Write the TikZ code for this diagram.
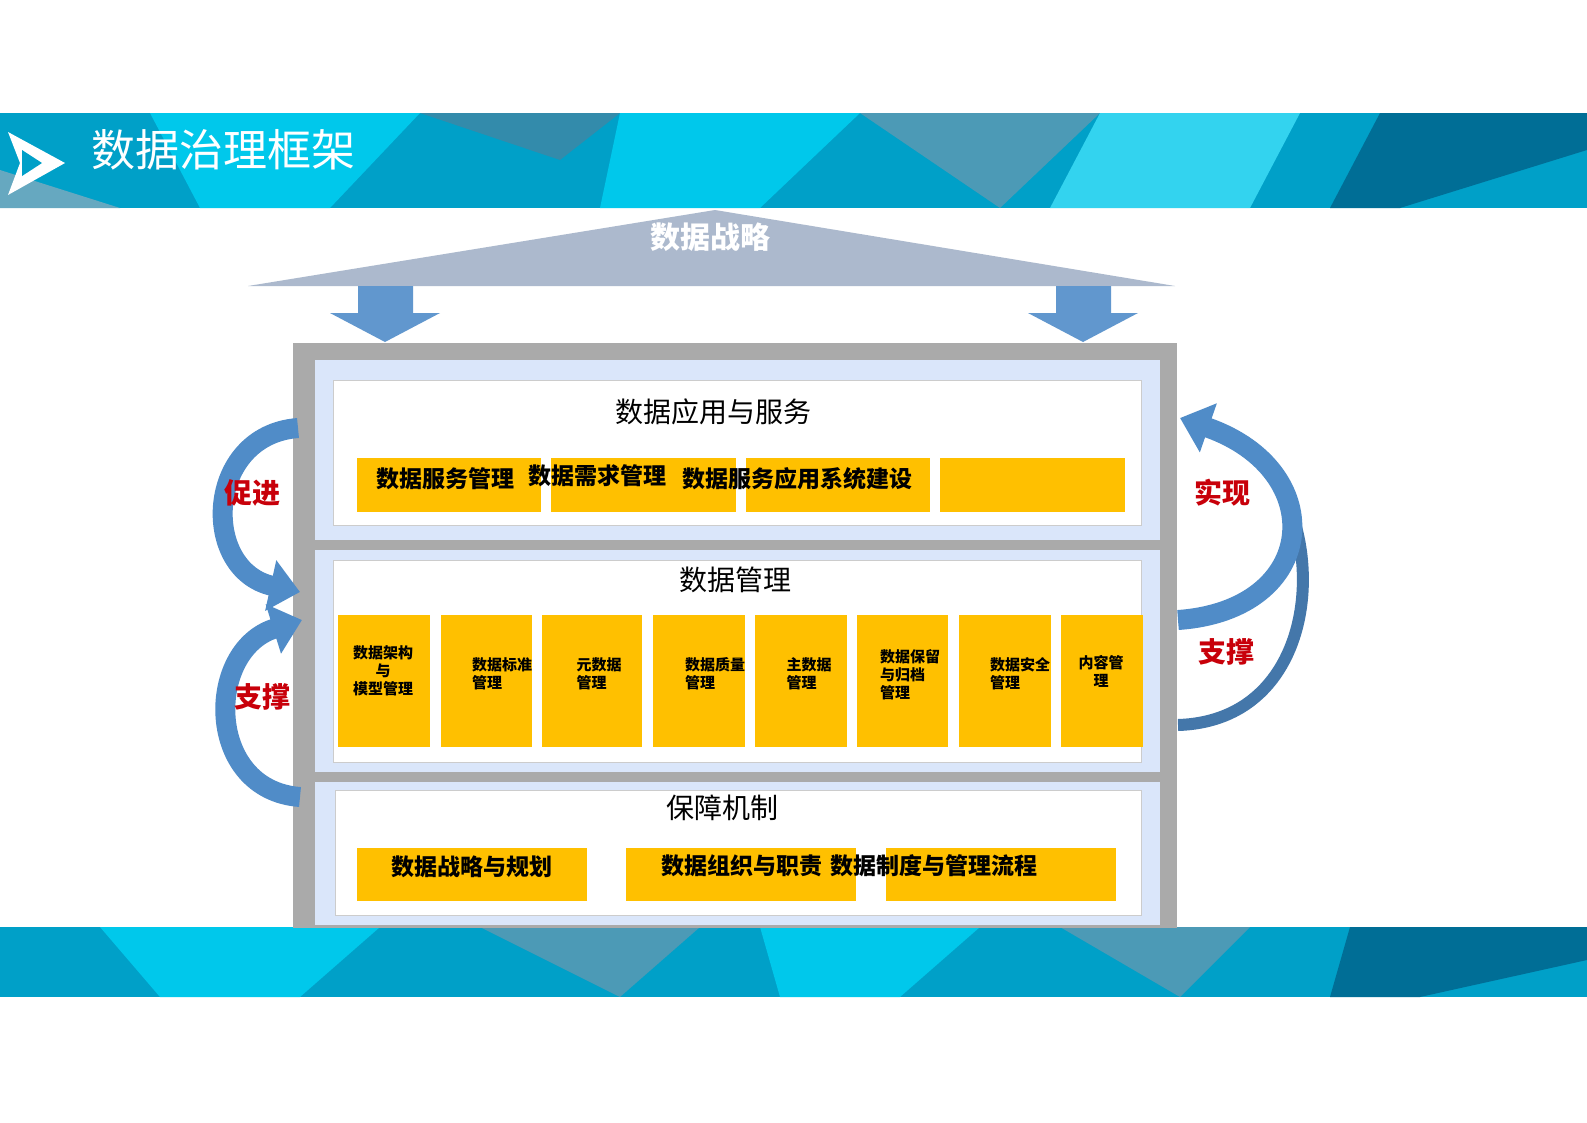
\documentclass[tikz,border=0pt]{standalone}
\usepackage{fontspec}
\setmainfont{Noto Sans CJK SC}
\usetikzlibrary{arrows.meta}
\definecolor{teal1}{RGB}{0,160,200}
\definecolor{teal2}{RGB}{0,200,235}
\definecolor{teal3}{RGB}{0,110,150}
\definecolor{roof}{RGB}{172,185,205}
\definecolor{frame}{RGB}{170,170,170}
\definecolor{panel}{RGB}{218,230,250}
\definecolor{ybox}{RGB}{255,192,0}
\definecolor{arr}{RGB}{80,140,200}
\definecolor{lbl}{RGB}{200,0,10}
\begin{document}
\begin{tikzpicture}[x=1pt,y=-1pt,
  yb/.style={fill=ybox,draw=none},
  ytext/.style={font=\fontsize{23}{25}\selectfont\bfseries,text=black},
  stext/.style={font=\fontsize{15}{18}\selectfont\bfseries,text=black,align=left},
  sect/.style={font=\fontsize{28}{30}\selectfont},
  redl/.style={font=\fontsize{28}{30}\selectfont\bfseries,text=lbl},
  carr/.style={draw=arr,line width=20pt,-{Triangle[length=30pt,width=50pt]}}]
\useasboundingbox (0,0) rectangle (1587,1122);
\fill[white] (0,0) rectangle (1587,1122);
% header band
\fill[teal1] (0,113) rectangle (1587,208);
\fill[teal2] (150,113) -- (420,113) -- (330,208) -- (200,208) -- cycle;
\fill[teal3!80] (420,113) -- (620,113) -- (560,160) -- cycle;
\fill[teal2] (620,113) -- (860,113) -- (760,208) -- (600,208) -- cycle;
\fill[teal3!70] (860,113) -- (1100,113) -- (1000,208) -- cycle;
\fill[teal2!80] (1100,113) -- (1300,113) -- (1250,208) -- (1050,208) -- cycle;
\fill[teal3] (1380,113) -- (1587,113) -- (1587,150) -- (1400,208) -- (1330,208) -- cycle;
\fill[teal3!60] (0,170) -- (120,208) -- (0,208) -- cycle;
% footer band
\fill[teal1] (0,927) rectangle (1587,997);
\fill[teal2] (100,927) -- (380,927) -- (300,997) -- (160,997) -- cycle;
\fill[teal3!70] (480,927) -- (700,927) -- (620,997) -- cycle;
\fill[teal2] (760,927) -- (980,927) -- (900,997) -- (780,997) -- cycle;
\fill[teal3!70] (1060,927) -- (1250,927) -- (1180,997) -- cycle;
\fill[teal3] (1350,927) -- (1587,927) -- (1587,960) -- (1420,997) -- (1330,997) -- cycle;
% title icon and title
\fill[white] (8,132) -- (65,163) -- (8,195) -- (20,163) -- cycle;
\fill[teal1] (22,150) -- (42,163) -- (22,176) -- cycle;
\node[anchor=west,text=white,font=\fontsize{44}{48}\selectfont] (title) at (88,150) {数据治理框架};
% roof
\fill[roof] (715,210) -- (1175,286) -- (248,286) -- cycle;
\node[text=white,font=\fontsize{30}{32}\selectfont\bfseries] (strat) at (710,237) {数据战略};
% down arrows
\foreach \cx in {385,1083}{
  \fill[arr!90] (\cx-27,286) -- (\cx+28,286) -- (\cx+28,313) -- (\cx+55,313) -- (\cx,342) -- (\cx-55,313) -- (\cx-27,313) -- cycle;
}
% frame
\fill[frame] (293,343) rectangle (1177,928);
\fill[panel] (315,360) rectangle (1160,540);
\fill[panel] (315,550) rectangle (1160,772);
\fill[panel] (315,782) rectangle (1160,925);
\fill[white,draw=frame!60] (333,380) rectangle (1141,525);
\fill[white,draw=frame!60] (333,560) rectangle (1141,762);
\fill[white,draw=frame!60] (335,790) rectangle (1141,915);
\node[sect] (s1) at (713,412) {数据应用与服务};
\node[sect] (s2) at (735,580) {数据管理};
\node[sect] (s3) at (722,808) {保障机制};
% row 1
\fill[yb] (357,458) rectangle (541,512);
\fill[yb] (551,458) rectangle (736,512);
\fill[yb] (746,458) rectangle (930,512);
\fill[yb] (940,458) rectangle (1125,512);
\node[ytext] (a1) at (445,479) {数据服务管理};
\node[ytext] (a2) at (597,476) {数据需求管理};
\node[ytext] (a3) at (797,479) {数据服务应用系统建设};
% row 2
\foreach \xa/\xb in {338/430,441/532,542/642,653/745,755/847,857/948,959/1051,1061/1143}{
  \fill[yb] (\xa,615) rectangle (\xb,747);
}
\node[stext,align=center] (b1) at (383,671) {数据架构\\与\\模型管理};
\node[stext] (b2) at (502,674) {数据标准\\管理};
\node[stext] (b3) at (599,674) {元数据\\管理};
\node[stext] (b4) at (715,674) {数据质量\\管理};
\node[stext] (b5) at (809,674) {主数据\\管理};
\node[stext] (b6) at (910,675) {数据保留\\与归档\\管理};
\node[stext] (b7) at (1020,674) {数据安全\\管理};
\node[stext,align=center] (b8) at (1101,671) {内容管\\理};
% row 3
\fill[yb] (357,848) rectangle (587,901);
\fill[yb] (626,848) rectangle (856,901);
\fill[yb] (886,848) rectangle (1116,901);
\node[ytext] (c1) at (472,867) {数据战略与规划};
\node[ytext] (c2) at (742,866) {数据组织与职责};
\node[ytext] (c3) at (934,866) {数据制度与管理流程};
% curved arrows left
\coordinate (l1s) at (298,428);
\coordinate (l1e) at (300,592);
\coordinate (l2s) at (300,797);
\coordinate (l2e) at (302,620);
\draw[carr] (l1s) .. controls (205,435) and (200,570) .. (l1e);
\draw[carr] (l2s) .. controls (205,790) and (205,650) .. (l2e);
% curved arrows right
\coordinate (r1s) at (1178,725);
\coordinate (r1e) at (1180,418);
\coordinate (r2s) at (1178,620);
\coordinate (r2m) at (1230,440);
\draw[draw=arr!85!black,line width=12pt] (r1s) .. controls (1340,720) and (1330,480) .. (r2m);
\draw[carr] (r2s) .. controls (1320,610) and (1330,470) .. (r1e);
% labels
\node[redl] (p1) at (252,493) {促进};
\node[redl] (p2) at (262,697) {支撑};
\node[redl] (p3) at (1222,493) {实现};
\node[redl] (p4) at (1226,652) {支撑};
\end{tikzpicture}
\end{document}
